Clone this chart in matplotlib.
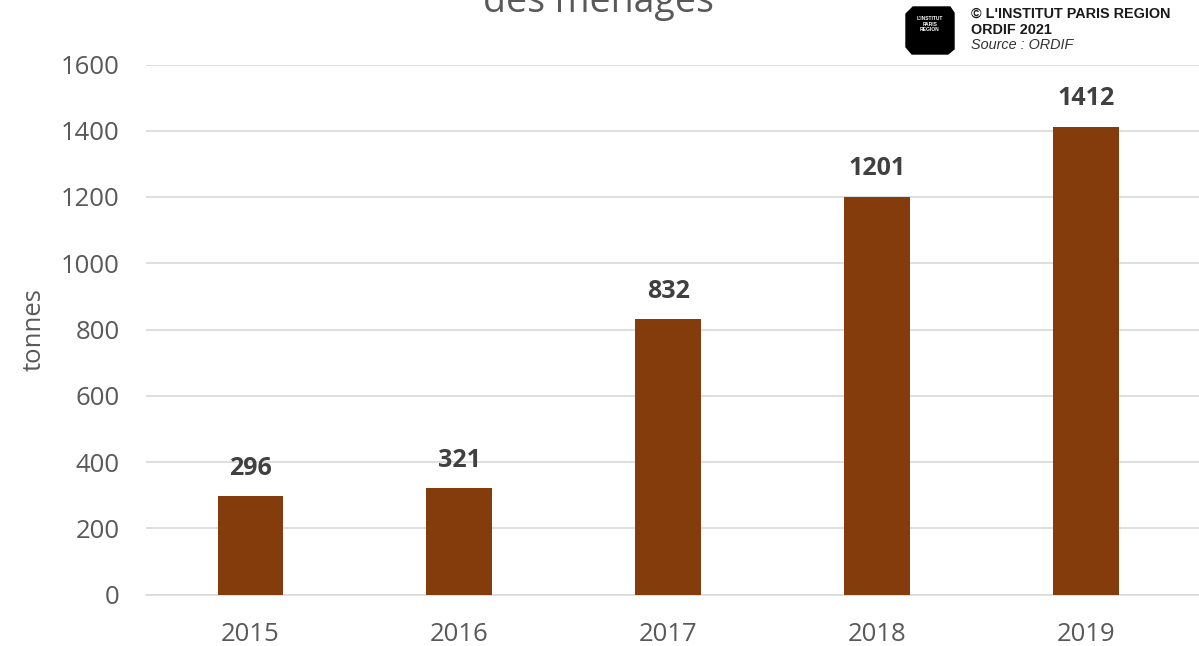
import matplotlib
matplotlib.use("Agg")
import matplotlib.pyplot as plt
from matplotlib.patches import Polygon

years = ["2015", "2016", "2017", "2018", "2019"]
values = [296, 321, 832, 1201, 1412]
yticks = [0, 200, 400, 600, 800, 1000, 1200, 1400, 1600]

W, H = 1199, 646
fig = plt.figure(figsize=(W / 100, H / 100), dpi=100)
plt.rcParams['font.family'] = ['Open Sans', 'DejaVu Sans']

ax = fig.add_axes([146 / W, 1 - 594.5 / H, 1 - 146 / W, (594.5 - 64.5) / H])
x = list(range(len(years)))
ax.bar(x, values, width=0.315, color="#843C0C", zorder=3)
ax.set_xlim(-0.5, 4.54)
ax.set_ylim(0, 1600)
ax.set_yticks(yticks)
ax.set_xticks(x)
ax.set_xticklabels(years)
ax.tick_params(axis='both', length=0, labelsize=18.5, colors="#595959")
ax.tick_params(axis='y', pad=19)
ax.tick_params(axis='x', pad=20)
ax.grid(axis='y', color="#D9D9D9", lw=1.2, zorder=0)
for s in ["top", "right", "left"]:
    ax.spines[s].set_visible(False)
ax.spines["bottom"].set_color("#D9D9D9")
ax.spines["bottom"].set_linewidth(1.2)
ax.set_ylabel("tonnes", fontsize=18.5, color="#595959", labelpad=10)

for xi, v in zip(x, values):
    ax.annotate(str(v), (xi, v), xytext=(0, 11), textcoords="offset points",
                ha="center", va="bottom", fontsize=18, fontweight="bold",
                color="#404040")

fig.text(598 / W, 1 - 12 / H, "des ménages", ha="center", va="baseline",
         fontsize=27, color="#595959")

# logo
pts = [(906, 14), (913, 7), (950, 7), (954, 13), (954, 49), (948, 54),
       (912, 54), (906, 47)]
logo = Polygon([(px / W, 1 - py / H) for px, py in pts], closed=True,
               transform=fig.transFigure, facecolor="black", edgecolor="black")
fig.patches.append(logo)
fig.text(930 / W, 1 - 19 / H, "L'INSTITUT", ha="center", va="center",
         fontsize=3.6, color="white", fontweight="bold",
         family=["Liberation Sans", "DejaVu Sans"])
fig.text(930 / W, 1 - 27 / H, "PARIS\nREGION", ha="center", va="center",
         fontsize=3.6, color="white", fontweight="bold", linespacing=0.9,
         family=["Liberation Sans", "DejaVu Sans"])

fig.text(971 / W, 1 - 14 / H, "© L'INSTITUT PARIS REGION", ha="left",
         va="center", fontsize=10.4, fontweight="bold", color="#1a1a1a",
         family=["Liberation Sans", "DejaVu Sans"])
fig.text(971 / W, 1 - 30 / H, "ORDIF 2021", ha="left", va="center",
         fontsize=10.4, fontweight="bold", color="#1a1a1a",
         family=["Liberation Sans", "DejaVu Sans"])
fig.text(971 / W, 1 - 45 / H, "Source : ORDIF", ha="left", va="center",
         fontsize=10.4, style="italic", color="#333333",
         family=["Liberation Sans", "DejaVu Sans"])

fig.savefig("out.png", dpi=100)
